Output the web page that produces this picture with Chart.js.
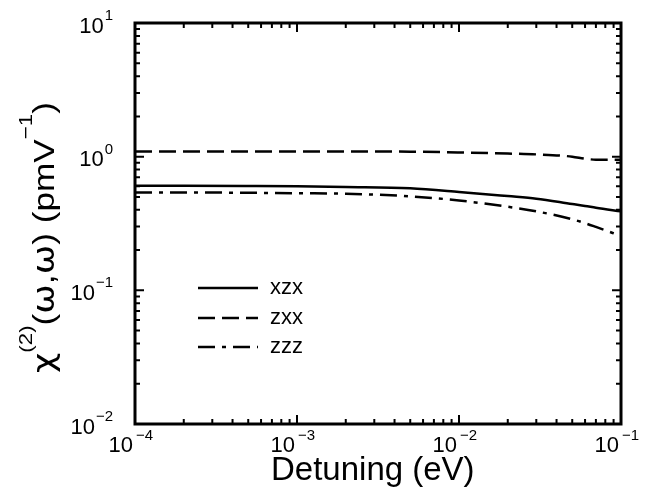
<!DOCTYPE html>
<html>
<head>
<meta charset="utf-8">
<script src="https://cdn.jsdelivr.net/npm/chart.js@4/dist/chart.umd.min.js"></script>
<style>
  html, body { margin: 0; padding: 0; background: #fff; }
  #wrap { width: 646px; height: 491px; }
</style>
</head>
<body>
<div id="wrap"><canvas id="c" width="646" height="491"></canvas></div>
<script>
// Detuning (eV) sample points
const detuning = [1e-4, 2e-4, 5e-4, 1e-3, 2e-3, 5e-3, 1e-2, 2e-2, 3e-2, 5e-2, 6e-2, 7e-2, 1e-1];
// chi(2) tensor components (pm/V)
const xzx = [0.605, 0.605, 0.603, 0.600, 0.593, 0.580, 0.545, 0.507, 0.485, 0.442, 0.428, 0.415, 0.390];
const zxx = [1.095, 1.095, 1.095, 1.095, 1.095, 1.090, 1.075, 1.055, 1.040, 1.000, 0.965, 0.950, 0.950];
const zzz = [0.540, 0.540, 0.537, 0.533, 0.528, 0.505, 0.470, 0.422, 0.390, 0.340, 0.318, 0.298, 0.255];
const seriesNames = ['xzx', 'zxx', 'zzz'];
const seriesDash = [[], [17, 7], [17, 7, 4, 7]];
// decade exponents used for the axis labels
const xExponents = [-4, -3, -2, -1];
const yExponents = [-2, -1, 0, 1];

const FONT = '"Liberation Sans", Arial, Helvetica, sans-serif';
const GREEK = '"DejaVu Sans", sans-serif';

function toPoints(ys) {
  return detuning.map((x, i) => ({ x: x, y: ys[i] }));
}

function expText(e) {
  return e < 0 ? '\u2212' + Math.abs(e) : String(e);
}

const framePlugin = {
  id: 'frame',
  afterDatasetsDraw(chart) {
    const ctx = chart.ctx;
    const a = chart.chartArea;
    const xs = chart.scales.x, ys = chart.scales.y;
    ctx.save();
    ctx.strokeStyle = '#000';
    ctx.fillStyle = '#000';

    // inward ticks on all four sides
    ctx.lineWidth = 2;
    ctx.setLineDash([]);
    const majorLen = 9, minorLen = 5;
    for (let e = xExponents[0]; e <= xExponents[xExponents.length - 1]; e++) {
      for (let m = 1; m <= 9; m++) {
        const v = m * Math.pow(10, e);
        if (v > 0.1 * 1.0001) break;
        const px = xs.getPixelForValue(v);
        const len = m === 1 ? majorLen : minorLen;
        ctx.beginPath();
        ctx.moveTo(px, a.bottom); ctx.lineTo(px, a.bottom - len);
        ctx.moveTo(px, a.top); ctx.lineTo(px, a.top + len);
        ctx.stroke();
      }
    }
    for (let e = yExponents[0]; e <= yExponents[yExponents.length - 1]; e++) {
      for (let m = 1; m <= 9; m++) {
        const v = m * Math.pow(10, e);
        if (v > 10 * 1.0001) break;
        const py = ys.getPixelForValue(v);
        const len = m === 1 ? majorLen : minorLen;
        ctx.beginPath();
        ctx.moveTo(a.left, py); ctx.lineTo(a.left + len, py);
        ctx.moveTo(a.right, py); ctx.lineTo(a.right - len, py);
        ctx.stroke();
      }
    }

    // frame
    ctx.lineWidth = 3;
    ctx.strokeRect(a.left, a.top, a.right - a.left, a.bottom - a.top);

    // x tick labels
    ctx.textBaseline = 'alphabetic';
    xExponents.forEach(e => {
      const px = xs.getPixelForValue(Math.pow(10, e));
      ctx.font = '22px ' + FONT;
      ctx.textAlign = 'right';
      ctx.fillText('10', px - 2, a.bottom + 28);
      ctx.font = '15px ' + FONT;
      ctx.textAlign = 'left';
      ctx.fillText(expText(e), px + 1, a.bottom + 15.5);
    });

    // y tick labels
    yExponents.forEach(e => {
      const py = ys.getPixelForValue(Math.pow(10, e));
      ctx.font = '15px ' + FONT;
      const we = ctx.measureText(expText(e)).width;
      ctx.textAlign = 'right';
      ctx.fillText(expText(e), 113, py - 3);
      ctx.font = '22px ' + FONT;
      ctx.fillText('10', 113 - we - 1, py + 9.5);
    });

    // x axis title
    ctx.font = '33px ' + FONT;
    ctx.textAlign = 'left';
    ctx.fillText('Detuning (eV)', 271, 480);

    // y axis title with superscripts
    const mainF = '30px ' + FONT, supF = '19px ' + FONT, grkF = '30px ' + GREEK;
    const parts = [
      ['\u03C7', grkF, 0],
      ['(2)', supF, -22],
      ['(', mainF, 0],
      ['\u03C9', grkF, 0],
      [',', mainF, 0],
      ['\u03C9', grkF, 0],
      [') (pmV', mainF, 0],
      ['\u22121', supF, -22],
      [')', mainF, 0]
    ];
    let total = 0;
    parts.forEach(p => { ctx.font = p[1]; total += ctx.measureText(p[0]).width; });
    const k = 271 / total;
    ctx.save();
    ctx.translate(54, 373);
    ctx.rotate(-Math.PI / 2);
    ctx.scale(k, 1);
    let cx = 0;
    parts.forEach(p => {
      ctx.font = p[1];
      ctx.textAlign = 'left';
      ctx.fillText(p[0], cx, p[2]);
      cx += ctx.measureText(p[0]).width;
    });
    ctx.restore();

    // legend
    const rows = [288, 318, 347];
    chart.data.datasets.forEach((ds, i) => {
      const y = rows[i];
      ctx.lineWidth = 2.5;
      ctx.setLineDash(ds.borderDash || []);
      ctx.beginPath();
      ctx.moveTo(198, y);
      ctx.lineTo(258, y);
      ctx.stroke();
      ctx.setLineDash([]);
      ctx.font = '22px ' + FONT;
      ctx.textAlign = 'left';
      ctx.fillText(ds.label, 270, y + 6);
    });

    ctx.restore();
  }
};

const datasets = [xzx, zxx, zzz].map((vals, i) => ({
  label: seriesNames[i],
  data: toPoints(vals),
  borderColor: '#000',
  borderWidth: 2.5,
  borderDash: seriesDash[i],
  pointRadius: 0,
  fill: false,
  cubicInterpolationMode: 'monotone'
}));

new Chart(document.getElementById('c'), {
  type: 'line',
  data: { datasets: datasets },
  options: {
    responsive: false,
    devicePixelRatio: 1,
    animation: false,
    layout: { padding: { left: 135, right: 25, top: 23, bottom: 67 } },
    plugins: { legend: { display: false }, tooltip: { enabled: false } },
    scales: {
      x: { type: 'logarithmic', min: 1e-4, max: 1e-1, display: false },
      y: { type: 'logarithmic', min: 1e-2, max: 10, display: false }
    }
  },
  plugins: [framePlugin]
});
</script>
</body>
</html>
